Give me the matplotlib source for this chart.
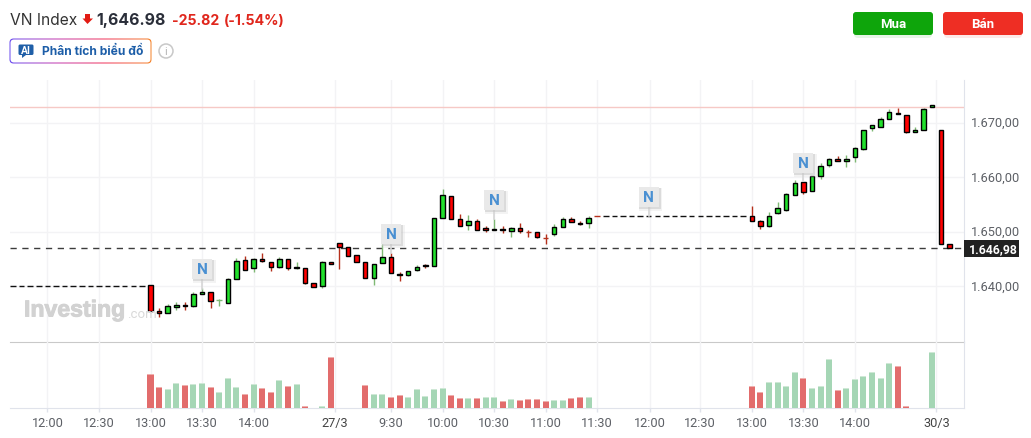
import numpy as np
import matplotlib
matplotlib.use("Agg")
import matplotlib.pyplot as plt
import matplotlib.patheffects as pe
from matplotlib.patches import FancyBboxPatch, Rectangle, Polygon, Circle
from matplotlib.colors import LinearSegmentedColormap

FLAT_A = 1640.1
FLAT_B = 1652.9
LAST = 1646.98
PREV_CLOSE = 1672.8

# candles: index 0 is 13:00 of the first session, one candle per 5 minutes
lead_idx = list(range(-16, 0))
lead_val = [FLAT_A] * 16
flat_idx = list(range(53, 70))
flat_val = [FLAT_B] * 17

idx = list(range(0, 53)) + list(range(70, 94))
opens = [1640.27, 1635.50, 1635.14, 1636.18, 1636.54, 1636.36, 1638.62, 1638.98, 1637.46, 1636.97,
         1641.36, 1644.78, 1643.38, 1645.03, 1644.48, 1643.56, 1645.03, 1643.38, 1643.38, 1640.63,
         1640.08, 1644.48, 1647.96, 1647.22, 1645.76, 1644.42, 1641.55, 1644.30, 1645.34, 1642.28,
         1642.10, 1643.00, 1643.82, 1643.69, 1652.54, 1656.57, 1652.36, 1651.26, 1651.99, 1650.71,
         1650.34, 1650.46, 1650.16, 1650.71, 1649.97, 1649.97, 1648.87, 1649.61, 1650.89, 1652.36,
         1651.62, 1651.62, 1652.90,
         1652.90, 1651.99, 1651.01, 1653.46, 1653.95, 1656.75, 1659.13, 1657.49, 1660.23, 1662.25,
         1663.35, 1662.98, 1663.71, 1665.18, 1669.02, 1669.21, 1670.67, 1671.77, 1671.34, 1668.29,
         1668.66, 1672.87, 1668.66, 1647.72]
closes = [1635.56, 1635.14, 1636.42, 1636.60, 1636.42, 1638.62, 1638.98, 1637.33, 1637.46, 1641.36,
          1644.66, 1643.01, 1645.03, 1644.66, 1643.56, 1645.03, 1643.32, 1643.56, 1640.63, 1639.90,
          1644.48, 1644.11, 1647.22, 1645.58, 1644.48, 1641.55, 1644.11, 1645.34, 1642.47, 1642.10,
          1642.83, 1643.50, 1643.81, 1652.54, 1656.75, 1652.36, 1651.07, 1651.99, 1650.34, 1650.34,
          1650.46, 1650.34, 1650.71, 1650.16, 1649.97, 1649.06, 1648.87, 1650.89, 1652.36, 1651.81,
          1651.44, 1652.54, 1652.90,
          1651.93, 1651.01, 1652.90, 1654.37, 1656.94, 1658.95, 1657.30, 1660.17, 1662.06, 1663.29,
          1662.98, 1663.35, 1665.36, 1668.66, 1669.57, 1670.67, 1671.96, 1671.59, 1668.23, 1668.66,
          1672.50, 1673.24, 1647.78, 1646.98]
highs = [1640.27, 1636.05, 1636.85, 1637.20, 1637.20, 1639.04, 1639.72, 1638.98, 1637.70, 1641.60,
         1645.21, 1645.64, 1645.27, 1646.13, 1644.48, 1645.39, 1645.03, 1644.48, 1643.38, 1640.63,
         1644.60, 1644.48, 1647.96, 1647.22, 1645.76, 1644.42, 1644.11, 1647.66, 1646.13, 1642.65,
         1642.83, 1643.99, 1644.17, 1652.54, 1657.91, 1656.57, 1653.33, 1652.97, 1652.36, 1651.07,
         1652.36, 1651.07, 1650.89, 1651.62, 1650.34, 1649.97, 1649.61, 1651.44, 1652.72, 1652.72,
         1651.99, 1652.90, 1652.90,
         1654.79, 1652.17, 1653.70, 1655.53, 1657.18, 1659.56, 1659.13, 1660.17, 1662.60, 1663.47,
         1663.90, 1664.08, 1665.55, 1668.66, 1669.57, 1671.04, 1672.50, 1672.57, 1671.34, 1669.21,
         1672.69, 1673.24, 1668.66, 1647.72]
lows = [1635.26, 1634.40, 1635.14, 1635.75, 1635.63, 1636.24, 1638.62, 1636.11, 1636.48, 1636.97,
        1641.36, 1643.01, 1642.59, 1644.48, 1642.89, 1643.32, 1642.95, 1643.26, 1640.45, 1639.90,
        1639.65, 1644.11, 1643.13, 1645.58, 1644.48, 1641.55, 1640.33, 1644.30, 1642.47, 1641.06,
        1641.86, 1642.83, 1643.38, 1643.69, 1652.54, 1652.36, 1651.07, 1650.40, 1650.34, 1649.91,
        1650.34, 1649.73, 1648.94, 1649.85, 1649.00, 1648.81, 1647.72, 1649.18, 1650.89, 1651.81,
        1651.26, 1650.65, 1652.90,
        1651.93, 1650.58, 1650.83, 1653.27, 1653.76, 1656.75, 1656.99, 1657.49, 1659.62, 1661.82,
        1662.98, 1661.94, 1662.68, 1664.93, 1668.41, 1669.21, 1670.67, 1671.59, 1667.99, 1668.29,
        1668.66, 1672.87, 1647.78, 1646.98]

vol_idx = [0, 1, 2, 3, 4, 5, 6, 7, 8, 9, 10, 11, 12, 13, 14, 15, 16, 17, 18, 20, 21,
           25, 26, 27, 28, 29, 30, 31, 32, 33, 34, 35, 36, 37, 38, 39, 40, 41, 42, 43, 44, 45, 46, 47, 48, 49, 50, 51,
           70, 71, 72, 73, 74, 75, 76, 77, 78, 79, 80, 81, 82, 83, 84, 85, 86, 87, 88, 91]
vol_val = [100, 61, 55, 73, 67, 70, 73, 61, 46, 88, 61, 40, 70, 58, 46, 82, 64, 70, 4, 6, 151,
           67, 40, 40, 31, 37, 31, 55, 34, 55, 58, 37, 28, 28, 28, 31, 31, 19, 25, 22, 25, 25, 19, 22, 22, 28, 31, 31,
           66, 48, 78, 78, 66, 108, 90, 60, 66, 147, 54, 60, 87, 96, 108, 90, 135, 126, 6, 168]
vol_dir = list("rrggrggrgggrgrrgrgrgr"
               "rggrrgggggrrgrggrgrrrrggrrg"
               "rrggggrgggrggggggrrg")

x_ticks = [-12, -6, 0, 6, 12, 21.5, 28, 34, 40, 46, 52, 58.15, 64, 70, 76, 82, 91.5]
x_labels = ["12:00", "12:30", "13:00", "13:30", "14:00", "27/3", "9:30", "10:00", "10:30", "11:00",
            "11:30", "12:00", "12:30", "13:00", "13:30", "14:00", "30/3"]
y_ticks = [1640, 1650, 1660, 1670]
y_labels = ["1.640,00", "1.650,00", "1.660,00", "1.670,00"]
# news flags: candle index, price at the stem foot
news_idx = [6, 28, 40, 58, 76]
news_low = [1639.6, 1646.1, 1652.4, 1652.9, 1659.2]

W, H = 1031, 439
plt.rcParams["font.family"] = ["Roboto", "DejaVu Sans"]
fig = plt.figure(figsize=(W / 100, H / 100), dpi=100, facecolor="white")

def axbox(l, t, r, b):
    return [l / W, 1 - b / H, (r - l) / W, (b - t) / H]

PX = 8.59
x_lim = ((10 - 150.5) / PX, (964 - 150.5) / PX)
ax = fig.add_axes(axbox(10, 80.5, 964, 342.5))
ax.set_xlim(*x_lim)
ax.set_ylim(1629.89, 1677.88)
vax = fig.add_axes(axbox(10, 343, 964, 408.5))
vax.set_xlim(*x_lim)
vax.set_ylim(0, 196.5)

for a in (ax, vax):
    a.set_xticks(x_ticks)
    a.grid(axis="x", color="#f3f3f5", lw=1)
    a.set_axisbelow(True)
    a.set_facecolor("none")
    for s in a.spines.values():
        s.set_visible(False)

ax.set_yticks(y_ticks)
ax.grid(axis="y", color="#f3f3f5", lw=1)
ax.yaxis.tick_right()
ax.set_yticklabels(y_labels, fontsize=9.2, color="#5d6066")
for lab in ax.get_yticklabels():
    lab.set_verticalalignment("center")
ax.tick_params(axis="y", length=0, pad=5)
ax.tick_params(axis="x", length=0, labelbottom=False)
ax.spines["right"].set_visible(True)
ax.spines["right"].set_color("#e0e3eb")
ax.spines["bottom"].set_visible(True)
ax.spines["bottom"].set_color("#c9c9c9")

vax.set_yticks([])
vax.set_xticklabels(x_labels, fontsize=9.2, color="#5d6066")
for lab, txt in zip(vax.get_xticklabels(), x_labels):
    if "/" in txt:
        lab.set_color("#444444")
vax.tick_params(axis="x", length=3, width=1, color="#e0e3eb", pad=3)
vax.spines["right"].set_visible(True)
vax.spines["right"].set_color("#e0e3eb")
vax.spines["bottom"].set_visible(True)
vax.spines["bottom"].set_color("#e0e3eb")

# reference lines
ax.axhline(PREV_CLOSE, color="#f6c9c6", lw=1, zorder=1)
ax.axhline(LAST, color="#3c3c3c", lw=1, dashes=(4.5, 4), zorder=1.5)

GREEN, RED = "#22e02c", "#ff0000"
WICK_G, WICK_R = "#7fb974", "#b5301c"
BW = 0.52
DW = 0.64

# flat stretches before and between the sessions
for i, v in zip(lead_idx + flat_idx, lead_val + flat_val):
    ax.plot([i - DW / 2, i + DW / 2], [v, v], color="#111111", lw=1.0, solid_capstyle="butt", zorder=3)

for i, o, c, h, l in zip(idx, opens, closes, highs, lows):
    up = c > o or (c == o and i == 8)
    wick = WICK_G if up else WICK_R
    ax.plot([i, i], [l, h], color=wick, lw=1.0, solid_capstyle="butt", zorder=3)
    if o == c:
        ax.plot([i - DW / 2, i + DW / 2], [o, o], color=wick, lw=1.0, solid_capstyle="butt", zorder=4)
    else:
        ax.add_patch(Rectangle((i - BW / 2, min(o, c)), BW, abs(o - c), facecolor=GREEN if up else RED,
                               edgecolor="black", lw=1.0, zorder=4))

vcol = {"r": "#e26c6c", "g": "#a5d6b5"}
vcap = {"r": "#eeb0ae", "g": "#cfe8d6"}
colors = [vcol[d] for d in vol_dir]
vax.bar(vol_idx, vol_val, width=0.7, color=[vcap[d] for d in vol_dir], zorder=3)
vax.bar(vol_idx, [max(v - 3, 0) for v in vol_val], width=0.7, color=colors, zorder=3.5)

# overlay in pixel coordinates for the page furniture
ov = fig.add_axes([0, 0, 1, 1])
ov.set_xlim(0, W)
ov.set_ylim(H, 0)
ov.axis("off")
ov.set_zorder(10)
ov.patch.set_alpha(0)

# news flags
for i, low, top in zip(news_idx, news_low, [260, 225, 191, 188, 154]):
    px = 150.5 + PX * i
    py = 80.5 + (1677.88 - low) * 5.46
    ov.plot([px, px], [top + 20, py], color="#d6d6d6", lw=1.2, zorder=2)
    ov.add_patch(Rectangle((px - 9.5, top + 0.5), 23, 23, facecolor="#d8d8d8", edgecolor="none", alpha=0.3, zorder=3))
    ov.add_patch(Rectangle((px - 9.5, top + 0.5), 21.5, 21.5, facecolor="#c4c4c4", edgecolor="none", alpha=0.5, zorder=3))
    ov.add_patch(Rectangle((px - 10, top), 20, 20, facecolor="#e9e9e9", edgecolor="none", zorder=4))
    ov.text(px, top + 10.5, "N", ha="center", va="center", fontsize=11, fontweight="bold",
            color="#4a90d2", zorder=5)

# watermark
ov.text(24, 311, "Investing", fontsize=16.6, fontweight="bold", color="#d2d2d2", va="center", ha="left",
        family=["Liberation Sans", "DejaVu Sans"],
        path_effects=[pe.withStroke(linewidth=0.7, foreground="#d2d2d2")])
ov.text(127.5, 315, ".com", fontsize=9.5, color="#d9d9d9", va="center", ha="left")

# last price tag
ov.add_patch(Rectangle((964, 241), 55, 17, facecolor="#222222", edgecolor="none", zorder=6))
ov.text(968.5, 250, "1.646,98", color="white", fontsize=8.8, fontweight="bold", va="center", ha="left", zorder=7)

# header
ov.text(10, 20.5, "VN Index", fontsize=11.2, color="#333333", va="center", family=["Inter", "DejaVu Sans"])
ov.add_patch(Polygon([[85, 15], [90, 15], [90, 19.5], [93, 19.5], [87.5, 25], [82.5, 19.5], [85, 19.5]],
                     closed=True, facecolor="#e21b13", edgecolor="none"))
ov.text(96.5, 20.5, "1,646.98", fontsize=11.4, fontweight="bold", color="#2a2e39", va="center",
        family=["Inter", "DejaVu Sans"])
ov.text(172, 21, "-25.82", fontsize=10.2, fontweight="bold", color="#e0261c", va="center",
        family=["Inter", "DejaVu Sans"])
ov.text(224, 21, "(-1.54%)", fontsize=10.2, fontweight="bold", color="#e0261c", va="center",
        family=["Inter", "DejaVu Sans"])

# AI button with a gradient border
cmap = LinearSegmentedColormap.from_list("g", ["#6a4df0", "#c23bb0", "#f0345c", "#f5852a"])
grad = np.linspace(0, 1, 256).reshape(1, -1)
im = ov.imshow(grad, extent=[9, 152, 65, 39], cmap=cmap, aspect="auto", zorder=2)
im.set_clip_path(FancyBboxPatch((9.5, 39.5), 142, 25, boxstyle="round,pad=0,rounding_size=4", transform=ov.transData))
ov.add_patch(FancyBboxPatch((10.5, 40.5), 140, 23, boxstyle="round,pad=0,rounding_size=3.5",
                            facecolor="white", edgecolor="none", zorder=3))
ov.set_xlim(0, W)
ov.set_ylim(H, 0)
ov.add_patch(FancyBboxPatch((18.5, 45.5), 15, 10.5, boxstyle="round,pad=0,rounding_size=1.5",
                            facecolor="#1f5fa8", edgecolor="none", zorder=4))
ov.add_patch(Polygon([[22, 56], [26, 56], [22, 59]], closed=True, facecolor="#1f5fa8", edgecolor="none", zorder=4))
ov.text(26, 51, "AI", fontsize=7.5, fontweight="bold", color="white", ha="center", va="center", zorder=5)
ov.text(42, 52, "Phân tích biểu đồ", fontsize=8.7, fontweight="bold", color="#1d5ea8", va="center", zorder=5,
        family=["Inter", "DejaVu Sans"])
ov.add_patch(Circle((166, 52), 7, facecolor="none", edgecolor="#c8c8c8", lw=1.1))
ov.text(166, 52.3, "i", fontsize=8, color="#b5b5b5", ha="center", va="center")

# buttons with a soft glow underneath
for x0, col in [(853, "#0ea50b"), (943, "#ee2e24")]:
    ov.add_patch(FancyBboxPatch((x0 + 1, 15), 78, 24, boxstyle="round,pad=0,rounding_size=4",
                                facecolor=col, edgecolor="none", alpha=0.10))
    ov.add_patch(FancyBboxPatch((x0, 13), 80, 23, boxstyle="round,pad=0,rounding_size=3",
                                facecolor=col, edgecolor="none"))
ov.text(893, 24.5, "Mua", fontsize=9.5, fontweight="bold", color="white", ha="center", va="center")
ov.text(983, 24.5, "Bán", fontsize=9.5, fontweight="bold", color="white", ha="center", va="center")

fig.savefig("out.png", dpi=100)
